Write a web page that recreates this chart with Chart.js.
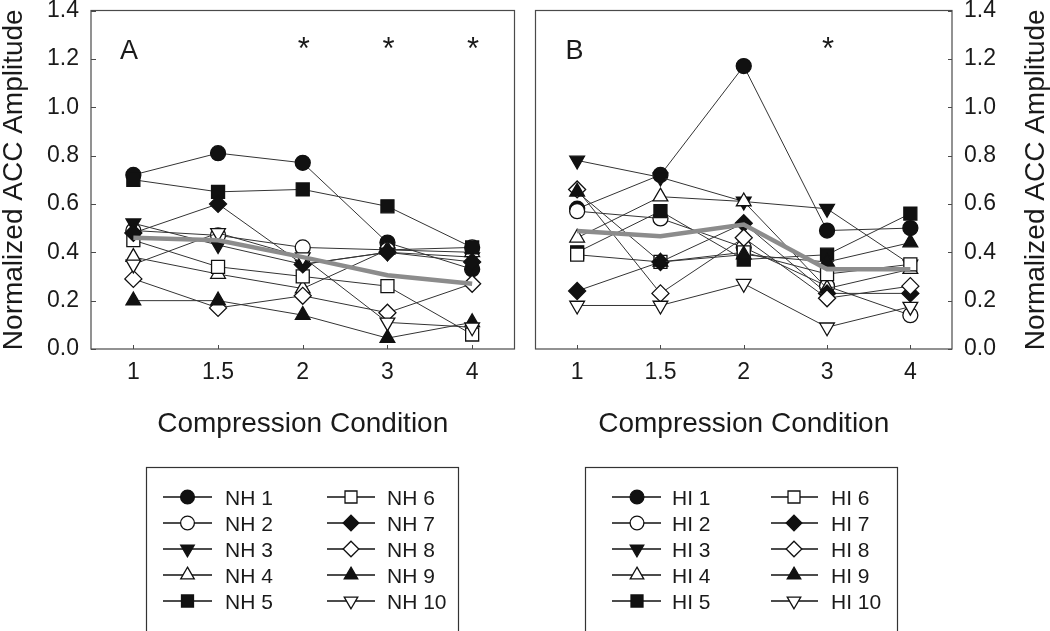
<!DOCTYPE html>
<html><head><meta charset="utf-8">
<script src="https://cdn.jsdelivr.net/npm/chart.js@4.4.1/dist/chart.umd.min.js"></script>
<style>
html,body{margin:0;padding:0;background:#fff;width:1050px;height:631px;overflow:hidden}
#wa{position:absolute;left:0;top:0;width:525px;height:631px}
#wb{position:absolute;left:525px;top:0;width:525px;height:631px}
</style></head><body>
<div id="wa"><canvas id="ca"></canvas></div>
<div id="wb"><canvas id="cb"></canvas></div>
<script>
// ---- data ----
const categories = ['1', '1.5', '2', '3', '4'];
const yTickLabels = ['0.0', '0.2', '0.4', '0.6', '0.8', '1.0', '1.2', '1.4'];
const yTitle = 'Normalized ACC Amplitude';
const xTitle = 'Compression Condition';

const nh1  = [0.72, 0.81, 0.77, 0.44, 0.33];
const nh2  = [0.49, 0.47, 0.42, 0.41, 0.42];
const nh3  = [0.52, 0.43, 0.35, 0.40, 0.38];
const nh4  = [0.38, 0.31, 0.25, 0.41, 0.40];
const nh5  = [0.70, 0.65, 0.66, 0.59, 0.42];
const nh6  = [0.45, 0.34, 0.30, 0.26, 0.06];
const nh7  = [0.48, 0.60, 0.35, 0.40, 0.36];
const nh8  = [0.29, 0.17, 0.22, 0.15, 0.27];
const nh9  = [0.20, 0.20, 0.14, 0.045, 0.11];
const nh10 = [0.35, 0.48, 0.38, 0.11, 0.09];
const nhMean = [0.46, 0.45, 0.38, 0.305, 0.27];
const nhNames = ['NH 1', 'NH 2', 'NH 3', 'NH 4', 'NH 5', 'NH 6', 'NH 7', 'NH 8', 'NH 9', 'NH 10'];

const hi1  = [0.58, 0.72, 1.17, 0.49, 0.50];
const hi2  = [0.57, 0.54, 0.42, 0.26, 0.14];
const hi3  = [0.78, 0.71, 0.61, 0.58, 0.35];
const hi4  = [0.46, 0.63, 0.61, 0.25, 0.33];
const hi5  = [0.40, 0.57, 0.37, 0.39, 0.56];
const hi6  = [0.39, 0.36, 0.40, 0.31, 0.35];
const hi7  = [0.24, 0.36, 0.52, 0.23, 0.23];
const hi8  = [0.66, 0.23, 0.46, 0.21, 0.26];
const hi9  = [0.65, 0.36, 0.39, 0.36, 0.44];
const hi10 = [0.18, 0.18, 0.27, 0.09, 0.175];
const hiMean = [0.488, 0.466, 0.515, 0.33, 0.33];
const hiNames = ['HI 1', 'HI 2', 'HI 3', 'HI 4', 'HI 5', 'HI 6', 'HI 7', 'HI 8', 'HI 9', 'HI 10'];

const sigA = ['2', '3', '4'];
const sigB = ['3'];

// ---- styles ----
const FONT = '"Liberation Sans", Arial, Helvetica, sans-serif';
const INK = '#1a1a1a';
const markers = [
  {style: 'circle', rot: 0, r: 7.5, fill: true},
  {style: 'circle', rot: 0, r: 7.5, fill: false},
  {style: 'triangle', rot: 180, r: 8.5, fill: true},
  {style: 'triangle', rot: 0, r: 8.5, fill: false},
  {style: 'rect', rot: 0, r: 9.2, fill: true},
  {style: 'rect', rot: 0, r: 9.2, fill: false},
  {style: 'rectRot', rot: 0, r: 8.5, fill: true},
  {style: 'rectRot', rot: 0, r: 8.5, fill: false},
  {style: 'triangle', rot: 0, r: 8.5, fill: true},
  {style: 'triangle', rot: 180, r: 8.5, fill: false}
];

function buildDatasets(series, names, mean) {
  const ds = [{
    label: 'mean', data: mean, borderColor: '#8c8c8c', borderWidth: 4.5,
    pointRadius: 0, pointHoverRadius: 0, fill: false, tension: 0, order: 0
  }];
  series.forEach((d, i) => {
    const m = markers[i];
    ds.push({
      label: names[i], data: d, borderColor: '#333', borderWidth: 1,
      pointStyle: m.style, pointRotation: m.rot, pointRadius: m.r, pointHoverRadius: m.r,
      pointBackgroundColor: m.fill ? '#111' : '#fff', pointBorderColor: '#111',
      pointBorderWidth: 1.3, fill: false, tension: 0, order: series.length - i
    });
  });
  return ds;
}

function decorPlugin(cfg) {
  return {
    id: 'decor' + cfg.key,
    afterDatasetsDraw(chart) {
      const ctx = chart.ctx;
      const a = chart.chartArea;
      const xs = chart.scales.x, ys = chart.scales.y;
      ctx.save();
      // frame
      ctx.strokeStyle = '#4a4a4a';
      ctx.lineWidth = 1.2;
      ctx.strokeRect(a.left, a.top, a.right - a.left, a.bottom - a.top);
      // inward ticks
      ctx.beginPath();
      xs.ticks.forEach((t, i) => {
        const px = Math.round(xs.getPixelForTick(i)) + 0.5;
        ctx.moveTo(px, a.bottom); ctx.lineTo(px, a.bottom - 4);
      });
      ys.ticks.forEach((t, i) => {
        const py = Math.round(ys.getPixelForTick(i)) + 0.5;
        if (cfg.side === 'left') { ctx.moveTo(a.left, py); ctx.lineTo(a.left + 5, py); }
        else { ctx.moveTo(a.right, py); ctx.lineTo(a.right - 4, py); }
      });
      ctx.lineWidth = 1;
      ctx.stroke();
      // panel letter
      ctx.fillStyle = INK;
      ctx.font = '27px ' + FONT;
      ctx.textAlign = 'left';
      ctx.textBaseline = 'alphabetic';
      ctx.fillText(cfg.letter, a.left + cfg.letterDx, 59);
      // significance stars
      ctx.font = '31px ' + FONT;
      ctx.textAlign = 'center';
      cfg.sig.forEach(c => {
        ctx.fillText('*', xs.getPixelForValue(categories.indexOf(c)) + 1, 59);
      });
      // right-side title (reads bottom to top)
      if (cfg.side === 'right') {
        ctx.save();
        ctx.translate(chart.width - 14, (a.top + a.bottom) / 2);
        ctx.rotate(-Math.PI / 2);
        ctx.font = '28px ' + FONT;
        ctx.textAlign = 'center';
        ctx.textBaseline = 'middle';
        ctx.fillText(yTitle, 0, 0);
        ctx.restore();
      }
      // legend box
      const L = cfg.legend;
      ctx.strokeStyle = '#333';
      ctx.lineWidth = 1.2;
      ctx.strokeRect(L.x + 0.5, L.y + 0.5, L.w, 220);
      cfg.names.forEach((nm, i) => {
        const col = L.cols[Math.floor(i / 5)];
        const y = L.y0 + (i % 5) * 26;
        const ds = chart.data.datasets[i + 1];
        ctx.beginPath();
        ctx.moveTo(col.l0, y); ctx.lineTo(col.l1, y);
        ctx.strokeStyle = '#111'; ctx.lineWidth = 1.3; ctx.stroke();
        ctx.fillStyle = ds.pointBackgroundColor;
        ctx.strokeStyle = ds.pointBorderColor;
        ctx.lineWidth = 1.3;
        Chart.helpers.drawPoint(ctx, {pointStyle: ds.pointStyle, rotation: ds.pointRotation,
          radius: ds.pointRadius * 0.92, borderWidth: 1.3}, col.m, y);
        ctx.fillStyle = INK;
        ctx.font = '21px ' + FONT;
        ctx.textAlign = 'left';
        ctx.textBaseline = 'alphabetic';
        ctx.fillText(nm, col.t, y + 7.5);
      });
      ctx.restore();
    }
  };
}

function makeChart(id, datasets, side, padding, yWidth, plugin) {
  const yScale = {
    type: 'linear', position: side, min: 0, max: 1.4,
    grid: {display: false, drawTicks: false}, border: {display: false},
    ticks: {stepSize: 0.2, padding: 12, color: INK, font: {size: 23, family: FONT},
      callback: (v, i) => yTickLabels[i]},
    title: {display: side === 'left', text: yTitle, color: INK,
      font: {size: 28, family: FONT, lineHeight: 1}, padding: 0},
    afterFit: s => { s.width = yWidth; s.paddingTop = 0; s.paddingBottom = 0; }
  };
  return new Chart(document.getElementById(id), {
    type: 'line',
    data: {labels: categories, datasets},
    options: {
      responsive: true, maintainAspectRatio: false, animation: false,
      layout: {padding},
      plugins: {legend: {display: false}, tooltip: {enabled: false}},
      events: [],
      scales: {
        x: {
          type: 'category', offset: true,
          grid: {display: false, drawTicks: false}, border: {display: false},
          ticks: {padding: 10, color: INK, font: {size: 23, family: FONT}, maxRotation: 0},
          title: {display: true, text: xTitle, color: INK, font: {size: 28, family: FONT},
            padding: {top: 0, bottom: 0}},
          afterFit: s => { s.height = 92; s.paddingLeft = 0; s.paddingRight = 0; }
        },
        y: yScale
      }
    },
    plugins: [plugin]
  });
}

makeChart('ca',
  buildDatasets([nh1, nh2, nh3, nh4, nh5, nh6, nh7, nh8, nh9, nh10], nhNames, nhMean),
  'left', {left: 0, right: 9, top: 10, bottom: 190}, 91,
  decorPlugin({key: 'A', side: 'left', letter: 'A', letterDx: 29, sig: sigA, names: nhNames,
    legend: {x: 146, y: 467, w: 312, y0: 497,
      cols: [{l0: 163, l1: 212, m: 187.5, t: 225}, {l0: 327, l1: 375, m: 351, t: 387}]}}));

makeChart('cb',
  buildDatasets([hi1, hi2, hi3, hi4, hi5, hi6, hi7, hi8, hi9, hi10], hiNames, hiMean),
  'right', {left: 3, right: 0, top: 10, bottom: 190}, 98,
  decorPlugin({key: 'B', side: 'right', letter: 'B', letterDx: 30, sig: sigB, names: hiNames,
    legend: {x: 60, y: 467, w: 312, y0: 497,
      cols: [{l0: 87, l1: 136, m: 112, t: 147}, {l0: 246, l1: 293, m: 269, t: 306}]}}));
</script>
</body></html>
